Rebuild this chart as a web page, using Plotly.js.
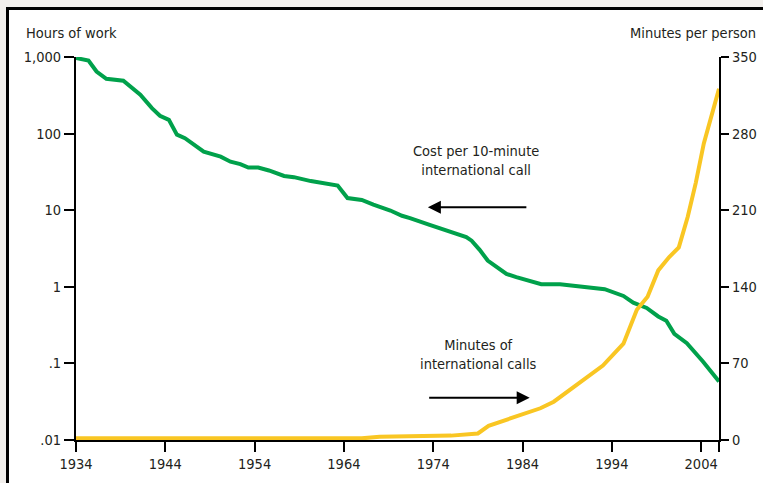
<!DOCTYPE html>
<html>
<head>
<meta charset="utf-8">
<script src="https://cdn.plot.ly/plotly-3.0.1.min.js"></script>
<style>
  html, body { margin: 0; padding: 0; width: 763px; height: 483px; overflow: hidden; background: #f2efec; }
  #frame { position: absolute; left: 6px; top: 7px; width: 800px; height: 520px;
           background: #ffffff; border-left: 3px solid #000; border-top: 3px solid #000; }
  #chart { position: absolute; left: 0; top: 0; width: 763px; height: 483px; }
</style>
</head>
<body>
<div id="frame"></div>
<div id="chart"></div>
<script>
// Cost of a 10-minute international call, in hours of work (log scale, left axis)
const costYears = [1934, 1935.4, 1936.3, 1937.4, 1939.3, 1941.2, 1942.5, 1943.4, 1944.4, 1945.3,
  1946.2, 1947.4, 1948.3, 1950.2, 1951.3, 1952.4, 1953.3, 1954.4, 1955.6, 1957.3,
  1958.4, 1960.3, 1961.4, 1963.3, 1964.4, 1966, 1967.3, 1969.2, 1970.5, 1971.4,
  1973.6, 1975.9, 1977.7, 1978.3, 1979.2, 1980.1, 1981.1, 1982.2, 1983.3, 1984.8,
  1986.1, 1988.2, 1990.1, 1991.9, 1993.2, 1995.3, 1996.4, 1997.9, 1999.2, 2000.1,
  2001, 2002.4, 2004.2, 2006];
const costHours = [970, 900, 646, 519, 490, 321, 215, 171, 151, 97,
  87, 68, 58, 50, 43, 40, 36, 36, 33, 28,
  27, 24, 23, 21, 14.4, 13.6, 11.8, 9.9, 8.45, 7.9,
  6.45, 5.27, 4.46, 4.0, 3.04, 2.2, 1.81, 1.47, 1.34, 1.2,
  1.08, 1.08, 1.03, 0.98, 0.93, 0.76, 0.62, 0.53, 0.41, 0.36,
  0.243, 0.184, 0.106, 0.058];

// Minutes of international calls per person (linear, right axis)
const minuteYears = [1934, 1966, 1968, 1970, 1973, 1974.5, 1976, 1978, 1979, 1980.2,
  1981.5, 1983, 1984.5, 1986, 1987.5, 1989, 1990, 1991, 1993, 1995.3,
  1996.8, 1998, 1999.2, 2000.4, 2001.5, 2002.5, 2003.4, 2004.3, 2006];
const minutesPerPerson = [1.5, 1.5, 3, 3, 3.2, 3.8, 4, 5, 6, 13,
  16.5, 20.5, 24, 29, 35, 44, 51, 56, 68, 88,
  119, 131, 155, 167, 176, 204, 235, 271, 321];

// Axis ticks
const yearTicks = [1934, 1944, 1954, 1964, 1974, 1984, 1994, 2004, 2006];
const yearLabels = ['1934', '1944', '1954', '1964', '1974', '1984', '1994', '2004', ''];
const hourTicks = [0.01, 0.1, 1, 10, 100, 1000];
const hourLabels = ['.01', '.1', '1', '10', '100', '1,000'];
const minuteTicks = [0, 70, 140, 210, 280, 350];

const FONT = '"Liberation Sans Narrow", "DejaVu Sans Condensed", "Roboto", sans-serif';
const FS = 14.5;
const INK = '#231f20';

const traces = [
  {
    x: minuteYears, y: minutesPerPerson, yaxis: 'y2', type: 'scatter', mode: 'lines',
    line: { color: '#f9c623', width: 4 }, hoverinfo: 'skip'
  },
  {
    x: costYears, y: costHours, yaxis: 'y', type: 'scatter', mode: 'lines',
    line: { color: '#00a14b', width: 4 }, hoverinfo: 'skip'
  }
];

const axisCommon = {
  showgrid: false, zeroline: false, showline: true, linecolor: '#000', linewidth: 2,
  ticks: 'outside', tickcolor: '#000', tickwidth: 2,
  tickfont: { family: FONT, size: FS, color: INK }
};

const layout = {
  width: 763, height: 483,
  margin: { l: 76, r: 44, t: 57, b: 43, pad: 0 },
  paper_bgcolor: 'rgba(0,0,0,0)', plot_bgcolor: 'rgba(0,0,0,0)',
  showlegend: false,
  font: { family: FONT, size: FS, color: INK },
  xaxis: Object.assign({}, axisCommon, {
    range: [1934, 2006], tickmode: 'array', tickvals: yearTicks, ticktext: yearLabels,
    ticklen: 10
  }),
  yaxis: Object.assign({}, axisCommon, {
    type: 'log', range: [-2, 3], tickmode: 'array', tickvals: hourTicks, ticktext: hourLabels,
    ticklen: 10
  }),
  yaxis2: Object.assign({}, axisCommon, {
    overlaying: 'y', side: 'right', range: [0, 350], tickmode: 'array', tickvals: minuteTicks,
    ticklen: 8
  }),
  annotations: [
    { xref: 'paper', yref: 'paper', x: -0.081, y: 1.063, xanchor: 'left', yanchor: 'middle',
      text: 'Hours of work', showarrow: false },
    { xref: 'paper', yref: 'paper', x: 1.0607, y: 1.063, xanchor: 'right', yanchor: 'middle',
      text: 'Minutes per person', showarrow: false },
    { xref: 'x', yref: 'paper', x: 1978.8, y: 0.7285, xanchor: 'center', yanchor: 'middle',
      text: 'Cost per 10-minute<br>international call', showarrow: false },
    { xref: 'x', yref: 'paper', x: 1979.1, y: 0.2232, xanchor: 'center', yanchor: 'middle',
      text: 'Minutes of<br>international calls', showarrow: false },
    { xref: 'x', yref: 'paper', x: 1973.4, y: 0.6076, text: '', showarrow: true,
      ax: 100, ay: 0, arrowhead: 2, arrowsize: 1.3, arrowwidth: 2, arrowcolor: '#000' },
    { xref: 'x', yref: 'paper', x: 1984.8, y: 0.1104, text: '', showarrow: true,
      ax: -102, ay: 0, arrowhead: 2, arrowsize: 1.3, arrowwidth: 2, arrowcolor: '#000' }
  ]
};

Plotly.newPlot('chart', traces, layout, { staticPlot: true, displayModeBar: false });
</script>
</body>
</html>
